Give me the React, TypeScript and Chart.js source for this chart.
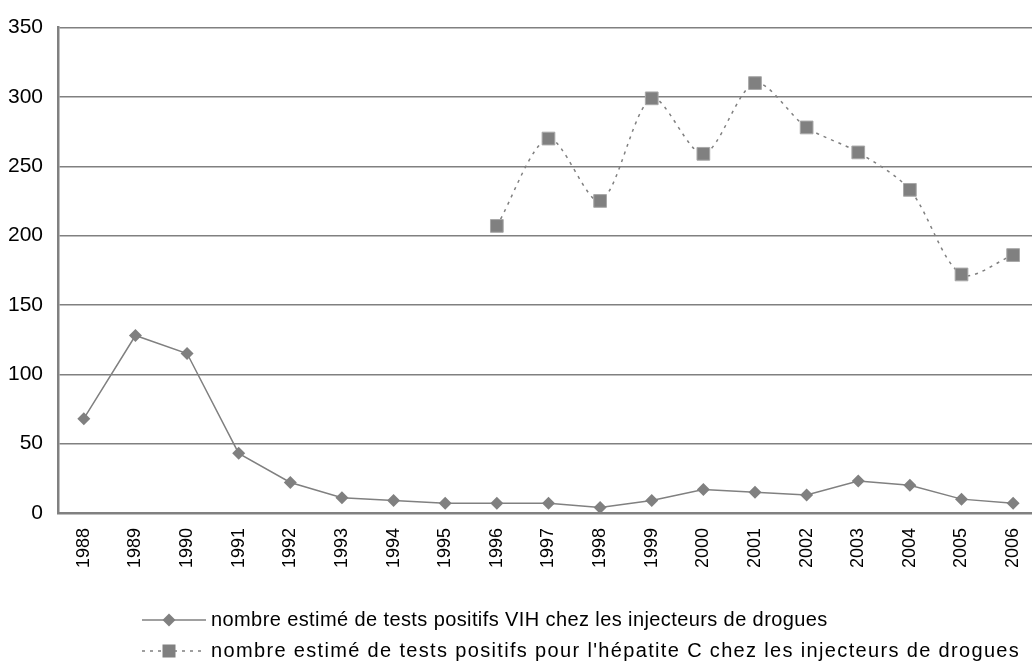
import React, { useEffect, useRef } from "react";
import { Chart, registerables } from "chart.js";

Chart.register(...registerables);

const years: string[] = [
  "1988", "1989", "1990", "1991", "1992", "1993", "1994", "1995", "1996", "1997",
  "1998", "1999", "2000", "2001", "2002", "2003", "2004", "2005", "2006",
];

const hivPositive: (number | null)[] = [
  68, 128, 115, 43, 22, 11, 9, 7, 7, 7, 4, 9, 17, 15, 13, 23, 20, 10, 7,
];

const hcvPositive: (number | null)[] = [
  null, null, null, null, null, null, null, null,
  207, 270, 225, 299, 259, 310, 278, 260, 233, 172, 186,
];

const hivLabel = "nombre estimé de tests positifs VIH chez les injecteurs de drogues";
const hcvLabel = "nombre estimé de tests positifs pour l'hépatite C chez les injecteurs de drogues";

const GREY = "#808080";
const FONT = "'Liberation Sans', Arial, sans-serif";

const legendPlugin = {
  id: "customLegend",
  afterDraw(chart: any) {
    const ctx = chart.ctx as CanvasRenderingContext2D;
    const rows = [
      { y: 620, label: hivLabel, dash: [] as number[], marker: "diamond", width: 617 },
      { y: 651, label: hcvLabel, dash: [3, 5], marker: "square", width: 809 },
    ];
    ctx.save();
    for (const r of rows) {
      ctx.strokeStyle = GREY;
      ctx.lineWidth = 1.5;
      ctx.setLineDash(r.dash);
      ctx.beginPath();
      ctx.moveTo(142, r.y);
      ctx.lineTo(206, r.y);
      ctx.stroke();
      ctx.setLineDash([]);
      ctx.fillStyle = GREY;
      if (r.marker === "diamond") {
        const s = 6.5;
        ctx.beginPath();
        ctx.moveTo(169, r.y - s);
        ctx.lineTo(169 + s, r.y);
        ctx.lineTo(169, r.y + s);
        ctx.lineTo(169 - s, r.y);
        ctx.closePath();
        ctx.fill();
      } else {
        ctx.fillRect(169 - 6.5, r.y - 6.5, 13, 13);
      }
      ctx.fillStyle = "#000";
      ctx.font = `20px ${FONT}`;
      ctx.textBaseline = "middle";
      ctx.textAlign = "left";
      const measured = ctx.measureText(r.label).width;
      const extra = Math.max(0, (r.width - measured) / r.label.length);
      (ctx as any).letterSpacing = `${extra.toFixed(2)}px`;
      ctx.fillText(r.label, 211, r.y);
      (ctx as any).letterSpacing = "0px";
    }
    ctx.restore();
  },
};

export default function App() {
  const ref = useRef<HTMLCanvasElement | null>(null);

  useEffect(() => {
    if (!ref.current) return;
    const chart = new Chart(ref.current, {
      type: "line",
      data: {
        labels: years,
        datasets: [
          {
            label: hivLabel,
            data: hivPositive,
            borderColor: GREY,
            backgroundColor: GREY,
            borderWidth: 1.5,
            pointStyle: "rectRot",
            pointRadius: 6.5,
            pointBorderColor: GREY,
            pointBackgroundColor: GREY,
            pointBorderWidth: 0,
            tension: 0,
          },
          {
            label: hcvLabel,
            data: hcvPositive,
            borderColor: GREY,
            backgroundColor: GREY,
            borderWidth: 1.5,
            borderDash: [3, 5],
            pointStyle: "rect",
            pointRadius: 9,
            pointBorderColor: "#a8a8a8",
            pointBackgroundColor: GREY,
            pointBorderWidth: 1,
            tension: 0.3,
            spanGaps: false,
          },
        ],
      },
      options: {
        responsive: false,
        animation: false,
        layout: { padding: { top: 23, left: 0, right: 4, bottom: 0 } },
        plugins: {
          legend: { display: false },
          tooltip: { enabled: false },
        },
        scales: {
          x: {
            type: "category",
            offset: true,
            grid: { display: false, drawTicks: false },
            border: { display: true, color: GREY, width: 2.5 },
            ticks: {
              color: "#000",
              font: { family: FONT, size: 18 },
              maxRotation: 90,
              minRotation: 90,
              autoSkip: false,
              padding: 15,
            },
            afterFit: (scale: any) => {
              scale.height = 151;
            },
          },
          y: {
            min: 0,
            max: 350,
            grid: { color: GREY, lineWidth: 1.5, drawTicks: false },
            border: { display: true, color: GREY, width: 2.5 },
            ticks: {
              stepSize: 50,
              color: "#000",
              font: { family: FONT, size: 21 },
              padding: 15,
            },
            afterFit: (scale: any) => {
              scale.width = 58;
            },
          },
        },
      },
      plugins: [legendPlugin],
    });
    return () => chart.destroy();
  }, []);

  return (
    <div
      style={{
        position: "absolute",
        left: 0,
        top: 0,
        width: 1032,
        height: 664,
        overflow: "hidden",
        background: "#fff",
      }}
    >
      <canvas ref={ref} width={1050} height={664} style={{ display: "block" }} />
    </div>
  );
}
